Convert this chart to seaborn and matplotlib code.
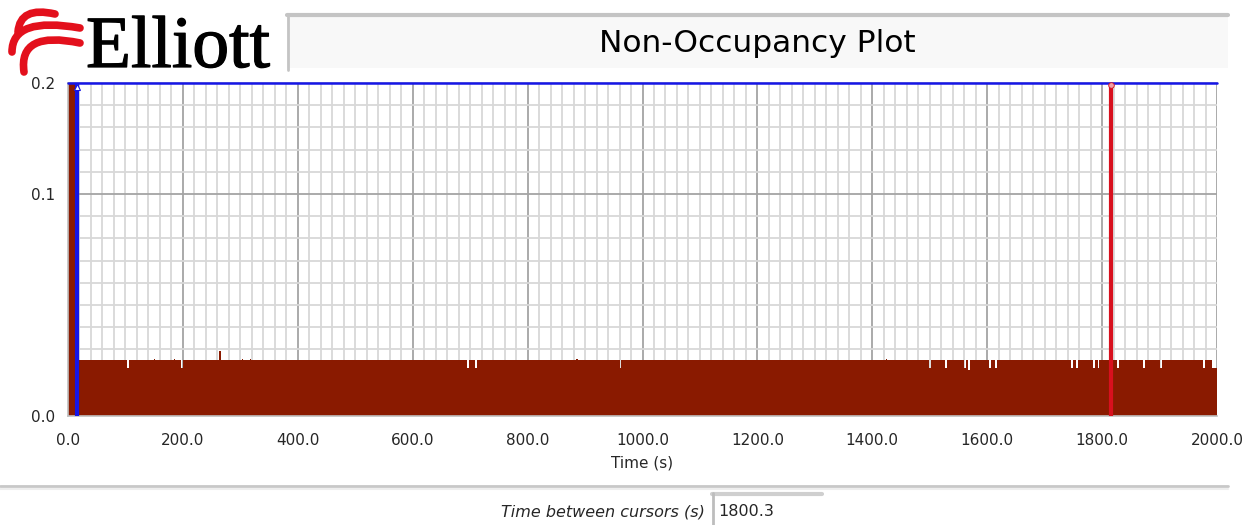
import matplotlib
matplotlib.use("Agg")
import matplotlib.pyplot as plt
import matplotlib.patheffects as pe
import seaborn as sns
from matplotlib.lines import Line2D
from matplotlib.patches import PathPatch, Rectangle
from matplotlib.path import Path
from matplotlib.ticker import MultipleLocator

# non-occupancy trace as steps: level held from each edge up to the next one
seg_edges = [0, 15, 103, 106, 149, 151, 185, 187, 197, 200, 263, 267,
             303, 305, 316, 318, 695, 698, 709, 712, 885, 887, 960, 963,
             1423, 1425, 1499, 1502, 1527, 1530, 1560, 1563, 1566, 1570,
             1604, 1607, 1614, 1617, 1746, 1749, 1755, 1758, 1785, 1788,
             1792, 1795, 1826, 1829, 1872, 1875, 1901, 1904, 1976, 1979,
             1992, 2000]
seg_levels = [1.0, 0.0252, 0.0216, 0.0252, 0.0258, 0.0252, 0.0258, 0.0252,
              0.0216, 0.0252, 0.0293, 0.0252, 0.0258, 0.0252, 0.0258, 0.0252,
              0.0216, 0.0252, 0.0216, 0.0252, 0.0258, 0.0252, 0.0216, 0.0252,
              0.0258, 0.0252, 0.0216, 0.0252, 0.0216, 0.0252, 0.0216, 0.0252,
              0.0205, 0.0252, 0.0216, 0.0252, 0.0216, 0.0252, 0.0216, 0.0252,
              0.0216, 0.0252, 0.0216, 0.0252, 0.0216, 0.0252, 0.0216, 0.0252,
              0.0216, 0.0252, 0.0216, 0.0252, 0.0216, 0.0252, 0.0216]

cursor_a = 16.0
cursor_b = 1816.3

x_ticks = [0, 200, 400, 600, 800, 1000, 1200, 1400, 1600, 1800, 2000]
x_tick_labels = ["0.0", "200.0", "400.0", "600.0", "800.0", "1000.0",
                 "1200.0", "1400.0", "1600.0", "1800.0", "2000.0"]
y_ticks = [0.0, 0.1, 0.15]
y_tick_labels = ["0.0", "0.1", "0.2"]

BAR = "#8A1A00"
BLUE = "#1515E6"
RED = "#D8101E"

W, H = 1252, 525


def fx(px):
    return px / W


def fy(py):
    return 1 - py / H


sns.set_style("white")
plt.rcParams["font.family"] = ["DejaVu Sans"]

fig = plt.figure(figsize=(12.52, 5.25), dpi=100)
ax = fig.add_axes([fx(68), fy(416), fx(1217) - fx(68), fy(83) - fy(416)])

sns.histplot(x=seg_edges[:-1], weights=seg_levels, bins=seg_edges,
             element="step", fill=True, color=BAR, alpha=1, linewidth=0,
             ax=ax, zorder=2)

ax.set_xlim(0, 2000)
ax.set_ylim(0, 0.15)
ax.set_xticks(x_ticks)
ax.set_xticklabels(x_tick_labels)
ax.set_yticks(y_ticks)
ax.set_yticklabels(y_tick_labels)
ax.xaxis.set_minor_locator(MultipleLocator(20))
ax.yaxis.set_minor_locator(MultipleLocator(0.01))
ax.set_axisbelow(True)
ax.grid(which="minor", color="#D8D8D8", linewidth=1.3)
ax.grid(which="major", color="#A4A4A4", linewidth=1.3)
ax.tick_params(which="minor", length=0)
ax.tick_params(which="major", direction="out", length=5, width=1,
               color="black", labelsize=11, pad=4)
ax.tick_params(axis="x", pad=7)
ax.set_xlabel("Time (s)", fontsize=11, labelpad=6)
ax.set_ylabel("")
for side in ["left", "bottom", "top"]:
    ax.spines[side].set_color("#C0C0C0")
    ax.spines[side].set_linewidth(1.2)
ax.spines["right"].set_visible(False)

# cursors
ax.axhline(0.15, color=BLUE, linewidth=1.8, zorder=5, clip_on=False)
ax.axvline(cursor_a, color=BLUE, linewidth=3, zorder=6)
ax.axvline(cursor_b, color=RED, linewidth=3, zorder=6)
ax.plot([cursor_a], [0.148], marker="^", markersize=5, color="white",
        markeredgecolor=BLUE, markeredgewidth=0.8, zorder=7, clip_on=False)
ax.plot([cursor_b], [0.149], marker="o", markersize=4, color="#F0A0A8",
        markeredgecolor=RED, markeredgewidth=0.6, zorder=7, clip_on=False)

# title box
fig.patches.append(Rectangle((fx(287), fy(68)), fx(1228) - fx(287),
                             fy(13) - fy(68), transform=fig.transFigure,
                             facecolor="#F8F8F8", edgecolor="none"))
fig.lines.append(Line2D([fx(287), fx(1228)], [fy(15), fy(15)],
                        transform=fig.transFigure, color="#C4C4C4", lw=3))
fig.lines.append(Line2D([fx(288), fx(288)], [fy(14), fy(70)],
                        transform=fig.transFigure, color="#C4C4C4", lw=2))
fig.text(fx(757), fy(44), "Non-Occupancy Plot", ha="center", va="center",
         fontsize=22.5, color="black")

# logo
fig.text(fx(86), fy(67), "Elliott", ha="left", va="baseline",
         fontsize=53, family="Liberation Serif", color="black",
         path_effects=[pe.withStroke(linewidth=0.9, foreground="black")])
strokes = [
    [(55, 14), (20, 6), (18, 32)],
    [(80, 28), (12, 16), (12, 52)],
    [(80, 43), (18, 30), (24, 72)],
]
for p0, p1, p2 in strokes:
    verts = [(fx(x), fy(y)) for x, y in (p0, p1, p2)]
    path = Path(verts, [Path.MOVETO, Path.CURVE3, Path.CURVE3])
    fig.patches.append(PathPatch(path, transform=fig.transFigure,
                                 facecolor="none", edgecolor="#E3101C",
                                 lw=5.5, capstyle="round"))

# bottom panel
fig.lines.append(Line2D([0, fx(1228)], [fy(486), fy(486)],
                        transform=fig.transFigure, color="#C8C8C8", lw=2))
fig.lines.append(Line2D([0, fx(1228)], [fy(488.5), fy(488.5)],
                        transform=fig.transFigure, color="#EEEEEE", lw=1.5))
fig.text(fx(705), fy(512), "Time between cursors (s)", ha="right",
         va="center", fontsize=11.5, style="italic")
fig.patches.append(Rectangle((fx(712), fy(525)), fx(822) - fx(712),
                             fy(492) - fy(525), transform=fig.transFigure,
                             facecolor="white", edgecolor="none"))
fig.lines.append(Line2D([fx(712), fx(822)], [fy(494), fy(494)],
                        transform=fig.transFigure, color="#CFCFCF", lw=3))
fig.lines.append(Line2D([fx(713), fx(713)], [fy(493), fy(525)],
                        transform=fig.transFigure, color="#BDBDBD", lw=2))
fig.text(fx(718), fy(512), f"{cursor_b - cursor_a:.1f}", ha="left",
         va="center", fontsize=11.5)

fig.savefig("out.png", dpi=100)
